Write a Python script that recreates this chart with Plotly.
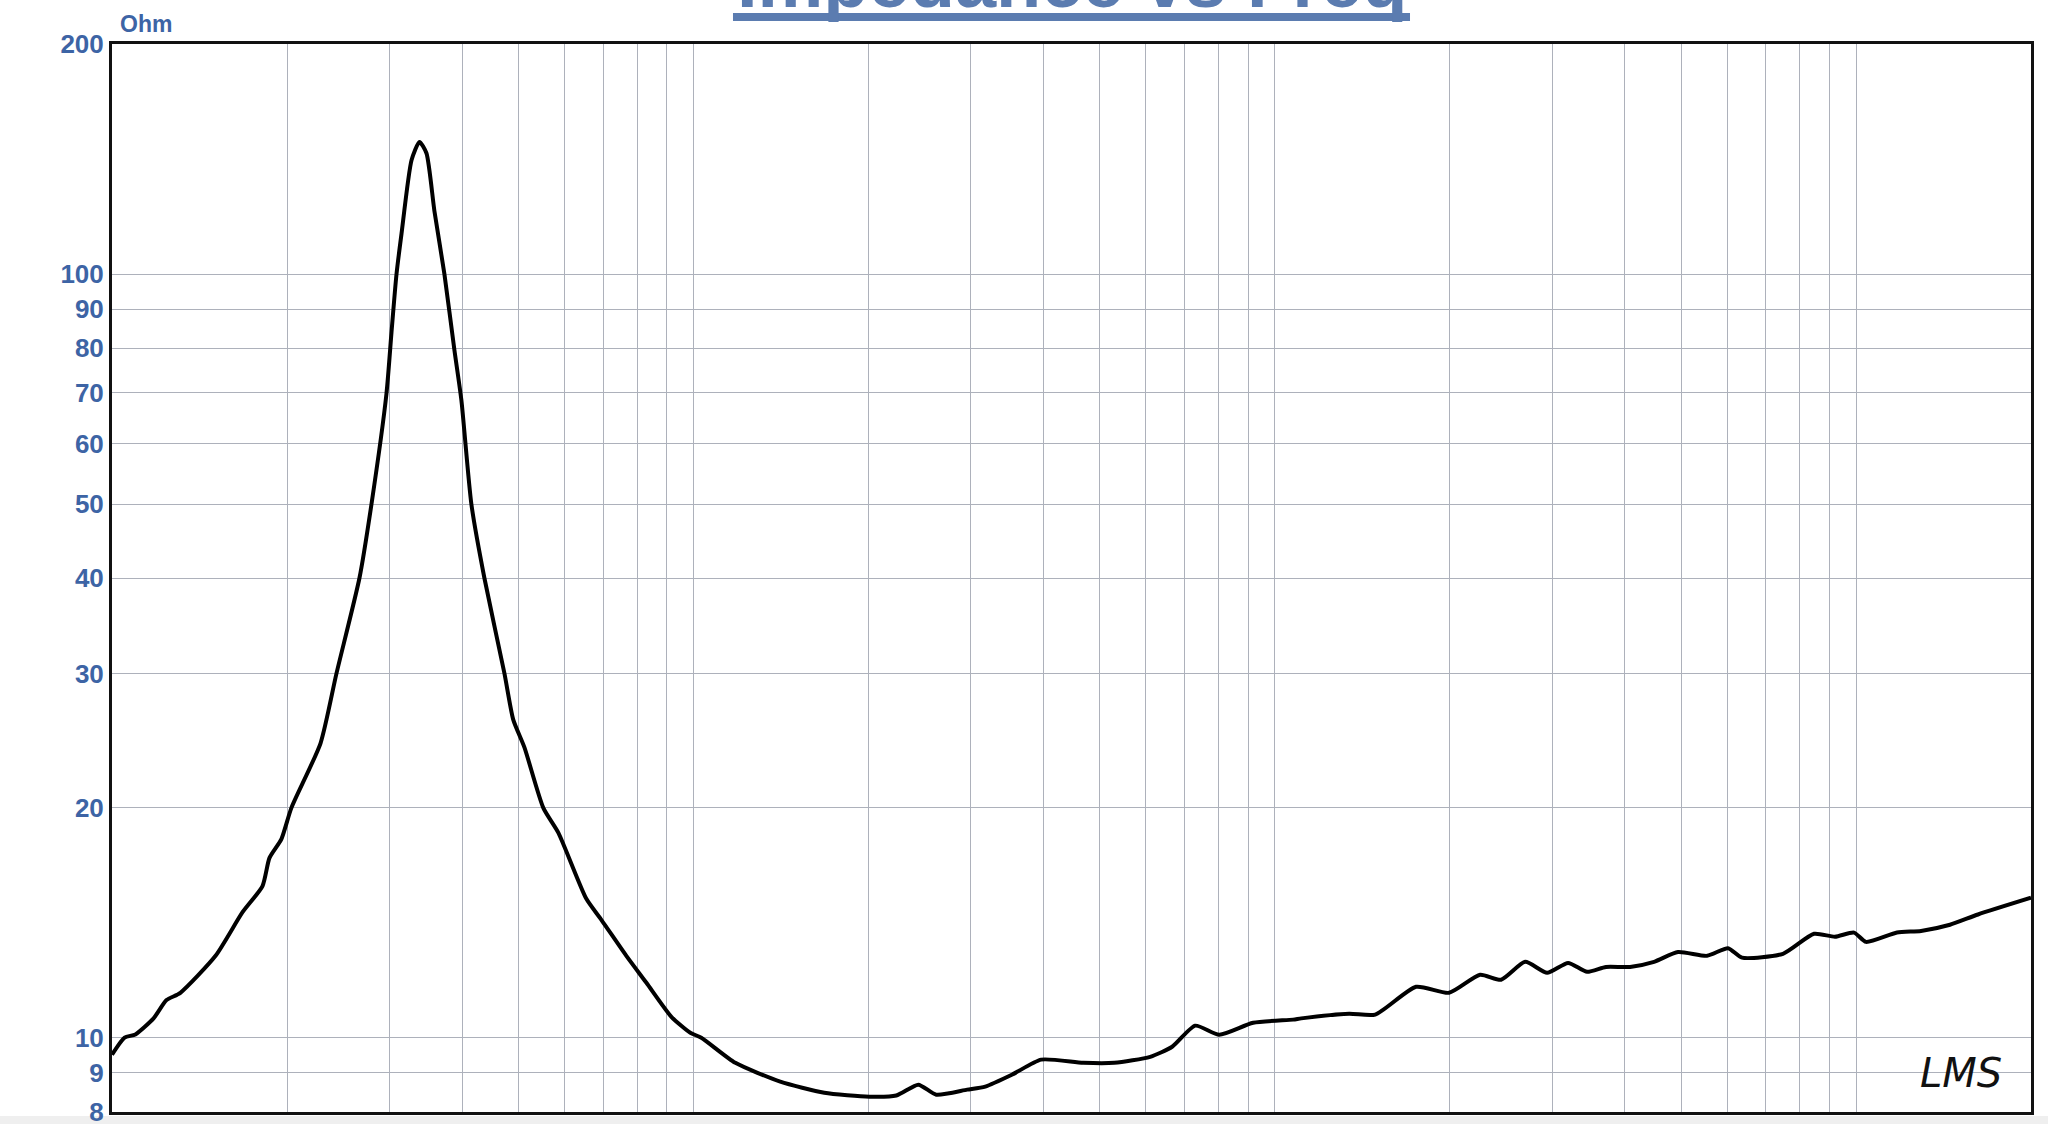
import math
import plotly.graph_objects as go

# ---- data (frequency in Hz, impedance in Ohm) ----
freq_hz = [10.0, 10.51, 10.97, 11.79, 12.41, 13.11, 15.07, 16.77, 18.15, 18.66,
           19.56, 20.35, 22.84, 24.33, 26.65, 27.95, 29.66, 30.25, 30.86, 31.48,
           32.75, 33.8, 34.75, 35.86, 37.31, 38.82, 39.9, 41.51, 43.71, 47.32,
           49.0, 51.22, 55.2, 58.6, 65.46, 69.47, 76.7, 83.04, 91.67, 98.8,
           103.2, 118.1, 141.1, 168.0, 200.8, 223.4, 243.8, 261.7, 295.9, 317.8,
           353.8, 396.7, 468.5, 529.7, 610.8, 666.3, 730.0, 803.0, 918.3, 1076,
           1111, 1343, 1489, 1751, 1995, 2256, 2452, 2697, 2942, 3197,
           3447, 3715, 4087, 4494, 4941, 5543, 6024, 6367, 7489, 8468,
           9201, 9921, 10405, 11763, 12938, 14510, 16212, 20000]
impedance_ohm = [9.5, 10.0, 10.1, 10.6, 11.2, 11.45, 12.8, 14.6, 15.8, 17.2,
                 18.2, 20.0, 24.3, 30.0, 40.0, 50.0, 69.8, 83.8, 100, 113,
                 141, 149, 144, 121, 100, 79.5, 68.4, 50.0, 40.0, 30.0,
                 26.1, 24.0, 20.0, 18.55, 15.2, 14.27, 12.8, 11.8, 10.65, 10.15,
                 10.0, 9.27, 8.76, 8.47, 8.37, 8.40, 8.68, 8.42, 8.55, 8.63,
                 8.95, 9.36, 9.27, 9.27, 9.44, 9.73, 10.37, 10.09, 10.46, 10.56,
                 10.6, 10.75, 10.72, 11.66, 11.45, 12.09, 11.91, 12.57, 12.16, 12.53,
                 12.2, 12.38, 12.38, 12.57, 12.95, 12.8, 13.1, 12.73, 12.88, 13.68,
                 13.56, 13.73, 13.35, 13.73, 13.8, 14.06, 14.5, 15.25]

y_ticks = [8, 9, 10, 20, 30, 40, 50, 60, 70, 80, 90, 100, 200]
y_tick_labels = ["8", "9", "10", "20", "30", "40", "50", "60", "70", "80", "90", "100", "200"]
x_grid = [20, 30, 40, 50, 60, 70, 80, 90,
          100, 200, 300, 400, 500, 600, 700, 800, 900,
          1000, 2000, 3000, 4000, 5000, 6000, 7000, 8000, 9000,
          10000, 20000]
x_limits = [10, 20000]
y_limits = [8, 200]

title_text = "Impedance vs Freq"
unit_text = "Ohm"
brand_text = "LMS"

BLUE = "#3d64a5"
TITLE_BLUE = "#5b7cb0"
GRID = "#adb1bb"

fig = go.Figure()
fig.add_trace(go.Scatter(
    x=freq_hz, y=impedance_ohm, mode="lines",
    line=dict(color="#000000", width=4, shape="spline", smoothing=0.6),
    showlegend=False, hoverinfo="skip",
))

fig.update_layout(
    width=2048, height=1124,
    margin=dict(l=112, r=17, t=44, b=12, autoexpand=False),
    paper_bgcolor="#ffffff", plot_bgcolor="#ffffff",
    showlegend=False,
    xaxis=dict(
        type="log", range=[math.log10(x_limits[0]), math.log10(x_limits[1])],
        tickmode="array", tickvals=x_grid, showticklabels=False,
        showgrid=True, gridcolor=GRID, gridwidth=1,
        ticks="", zeroline=False, automargin=False,
        showline=True, mirror=True, linecolor="#111111", linewidth=3,
    ),
    yaxis=dict(
        type="log",
        range=[math.log10(y_limits[0]) - 0.0004, math.log10(y_limits[1]) + 0.0004],
        tickmode="array", tickvals=y_ticks, ticktext=y_tick_labels,
        tickfont=dict(family="Liberation Sans, Arial, sans-serif", size=26,
                      color=BLUE, weight="bold"),
        ticks="", ticklen=0, ticklabelstandoff=0,
        ticklabeloverflow="allow", automargin=False,
        showgrid=True, gridcolor=GRID, gridwidth=1,
        zeroline=False,
        showline=True, mirror=True, linecolor="#111111", linewidth=3,
    ),
    annotations=[
        dict(text=title_text, xref="paper", yref="paper", x=0.5, y=1.0178,
             xanchor="center", yanchor="bottom", showarrow=False,
             font=dict(family="Liberation Sans, Arial, sans-serif", size=74,
                       color=TITLE_BLUE, weight="bold")),
        dict(text=unit_text, xref="paper", yref="paper", x=0.003, y=1.0187,
             xanchor="left", yanchor="middle", showarrow=False,
             font=dict(family="Liberation Sans, Arial, sans-serif", size=23,
                       color=BLUE, weight="bold")),
        dict(text=brand_text, xref="paper", yref="paper", x=0.9637, y=0.0365,
             xanchor="center", yanchor="middle", showarrow=False,
             font=dict(family="DejaVu Sans, sans-serif", size=40,
                       color="#111111", style="italic")),
    ],
    shapes=[
        dict(type="rect", xref="paper", yref="paper",
             x0=0.3236, x1=0.6764, y0=1.0215, y1=1.0290,
             fillcolor=TITLE_BLUE, line=dict(width=0)),
        dict(type="rect", xref="paper", yref="paper",
             x0=-0.2, x1=1.2, y0=-0.0037, y1=-0.03,
             fillcolor="#efefef", line=dict(width=0), layer="below"),
    ],
)

fig.write_html(
    "out.html",
    config={"displayModeBar": False},
    post_script="document.body.style.margin='0';document.body.style.overflow='hidden';",
)
